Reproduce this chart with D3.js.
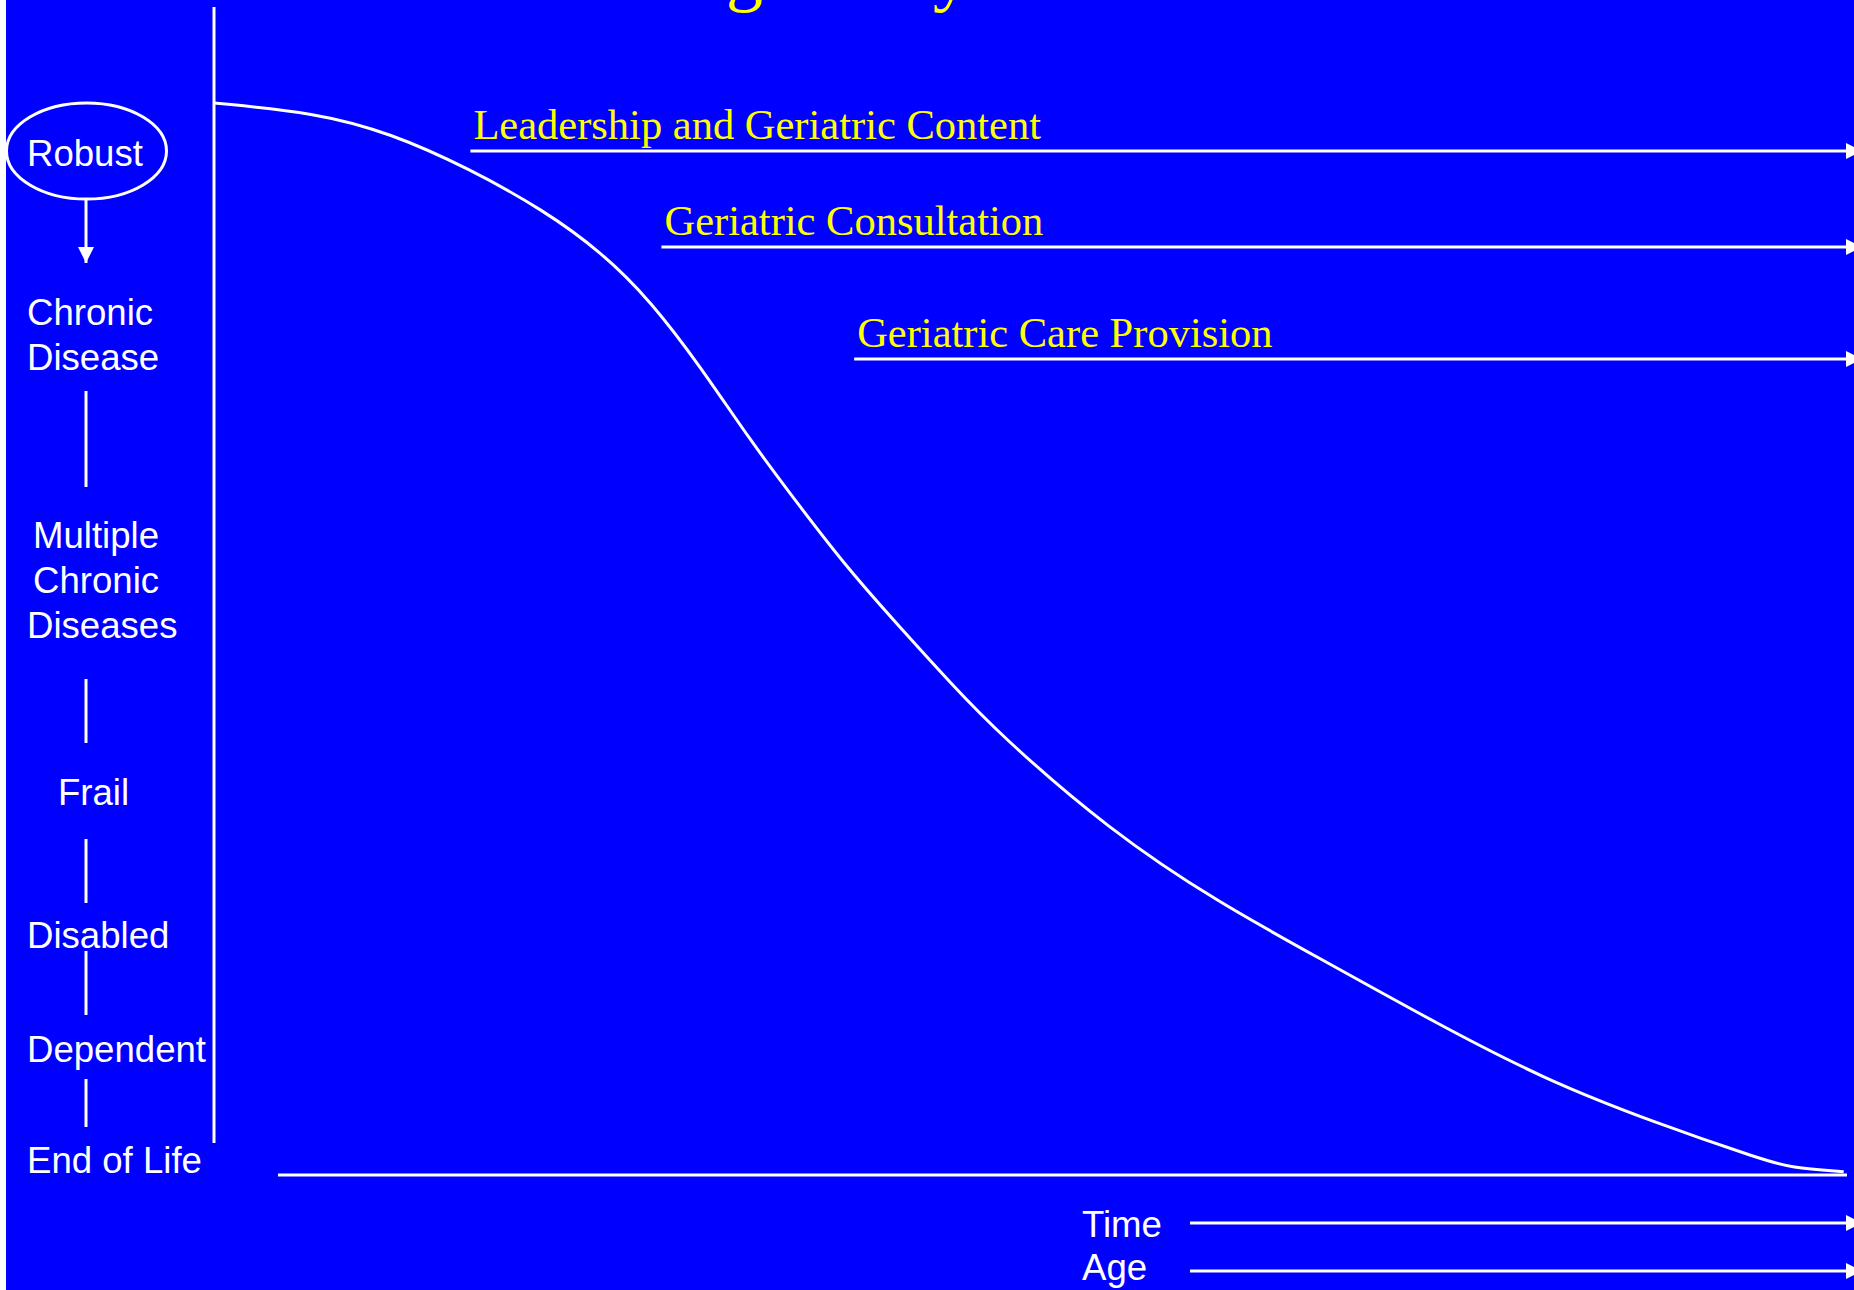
<!DOCTYPE html>
<html>
<head>
<meta charset="utf-8">
<script src="https://cdn.jsdelivr.net/npm/d3@7"></script>
<style>
  html, body { margin: 0; padding: 0; background: #ffffff; overflow: hidden; }
  svg { display: block; }
</style>
</head>
<body>
<div id="chart"></div>
<script>
// stages of health down the left side, top to bottom
const stages = [
    ["Robust"],
    ["Chronic", "Disease"],
    ["Multiple", "Chronic", "Diseases"],
    ["Frail"],
    ["Disabled"],
    ["Dependent"],
    ["End of Life"]
];

// health trajectory: time (0-100) vs function (100 = robust, 0 = end of life)
const curveTime = [0, 6.2, 10.8, 15.6, 20.2, 23.8, 26.7, 29.8, 32.8, 35.9, 38.9, 42.0, 45.1, 48.1, 54.8, 61.5, 68.2, 74.8, 81.5, 88.2, 94.9, 96.5, 99.8];
const curveFunc = [100, 99.1, 97.2, 93.9, 90.0, 86.0, 81.6, 75.4, 68.6, 62.3, 56.4, 51.1, 45.9, 41.1, 32.2, 25.4, 19.8, 14.2, 8.9, 4.9, 1.4, 0.7, 0.3];

// roles that start at some point along the time axis and carry on
const programs = ["Leadership and Geriatric Content", "Geriatric Consultation", "Geriatric Care Provision"];
const programStart = [15.7, 27.4, 39.2];

const bottomAxes = ["Time", "Age"];

const width = 1854, height = 1290;

const svg = d3.select("#chart").append("svg")
    .attr("width", width)
    .attr("height", height)
    .attr("viewBox", [0, 0, width, height]);

const x = d3.scaleLinear().domain([0, 100]).range([214, 1847]);
const y = d3.scaleLinear().domain([0, 100]).range([1175, 103]);

const defs = svg.append("defs");
defs.append("marker")
    .attr("id", "head")
    .attr("viewBox", "0 0 16 16")
    .attr("refX", 16)
    .attr("refY", 8)
    .attr("markerWidth", 16)
    .attr("markerHeight", 16)
    .attr("markerUnits", "userSpaceOnUse")
    .attr("orient", "auto")
    .append("path")
    .attr("d", "M0,0 L16,8 L0,16 Z")
    .attr("fill", "#ffffff");

// blue slide, thin white strip on the left
svg.append("rect")
    .attr("x", 6).attr("y", 0)
    .attr("width", width - 6).attr("height", height)
    .attr("fill", "#0000ff");

// the title sits above the frame, only its descenders show
const title = svg.append("g")
    .style("font-family", "'Liberation Serif', 'Times New Roman', serif")
    .style("font-size", "74px")
    .style("fill", "#ffff00");
title.append("text").attr("x", 726).attr("y", -3).text("g");
title.append("text").attr("x", 933).attr("y", -3).text("y");

// frame: vertical axis and base line
svg.append("line")
    .attr("x1", x(0)).attr("x2", x(0))
    .attr("y1", 7).attr("y2", 1143)
    .attr("stroke", "#fff").attr("stroke-width", 3);

svg.append("line")
    .attr("x1", 278).attr("x2", x(100))
    .attr("y1", y(0)).attr("y2", y(0))
    .attr("stroke", "#fff").attr("stroke-width", 3);

// trajectory curve
const pts = curveTime.map((t, i) => [t, curveFunc[i]]);
const line = d3.line()
    .x(d => x(d[0]))
    .y(d => y(d[1]))
    .curve(d3.curveBasis);

svg.append("path")
    .datum(pts)
    .attr("d", line)
    .attr("fill", "none")
    .attr("stroke", "#fff")
    .attr("stroke-width", 3);

// program arrows with yellow serif labels
const programY = [151, 247, 359];
const prog = svg.append("g");
programs.forEach((name, i) => {
    const x0 = x(programStart[i]);
    prog.append("line")
        .attr("x1", x0).attr("x2", 1862)
        .attr("y1", programY[i]).attr("y2", programY[i])
        .attr("stroke", "#fff").attr("stroke-width", 3)
        .attr("marker-end", "url(#head)");
    prog.append("text")
        .attr("x", x0 + 3)
        .attr("y", programY[i] - 12)
        .style("font-family", "'Liberation Serif', 'Times New Roman', serif")
        .style("font-size", "42.5px")
        .style("fill", "#ffff00")
        .text(name);
});

// left stage labels
const sans = "'Liberation Sans', Arial, sans-serif";
const stageY = [166, 325, 548, 805, 948, 1062, 1173];
const stageX = [[27], [27, 27], [33, 33, 27], [58], [27], [27], [27]];
const lab = svg.append("g")
    .style("font-family", sans)
    .style("font-size", "36.6px")
    .style("fill", "#fff");

stages.forEach((lines, i) => {
    const t = lab.append("text").attr("y", stageY[i]);
    lines.forEach((s, j) => {
        t.append("tspan")
            .attr("x", stageX[i][j])
            .attr("dy", j === 0 ? 0 : 45)
            .text(s);
    });
});

// ellipse round "Robust" and the connectors between stages
svg.append("ellipse")
    .attr("cx", 86.5).attr("cy", 151)
    .attr("rx", 80).attr("ry", 48)
    .attr("fill", "none")
    .attr("stroke", "#fff").attr("stroke-width", 3);

svg.append("line")
    .attr("x1", 86).attr("x2", 86)
    .attr("y1", 199).attr("y2", 263)
    .attr("stroke", "#fff").attr("stroke-width", 3)
    .attr("marker-end", "url(#head)");

const connectors = [[391, 487], [679, 743], [839, 903], [951, 1015], [1079, 1127]];
svg.append("g").selectAll("line")
    .data(connectors)
    .join("line")
    .attr("x1", 86).attr("x2", 86)
    .attr("y1", d => d[0]).attr("y2", d => d[1])
    .attr("stroke", "#fff").attr("stroke-width", 3);

// time / age arrows along the bottom
const bottomY = [1223, 1271];
const bottomBase = [1237, 1280];
bottomAxes.forEach((name, i) => {
    svg.append("text")
        .attr("x", 1082)
        .attr("y", bottomBase[i])
        .style("font-family", sans)
        .style("font-size", "36.6px")
        .style("fill", "#fff")
        .text(name);
    svg.append("line")
        .attr("x1", 1190).attr("x2", 1862)
        .attr("y1", bottomY[i]).attr("y2", bottomY[i])
        .attr("stroke", "#fff").attr("stroke-width", 3)
        .attr("marker-end", "url(#head)");
});
</script>
</body>
</html>
